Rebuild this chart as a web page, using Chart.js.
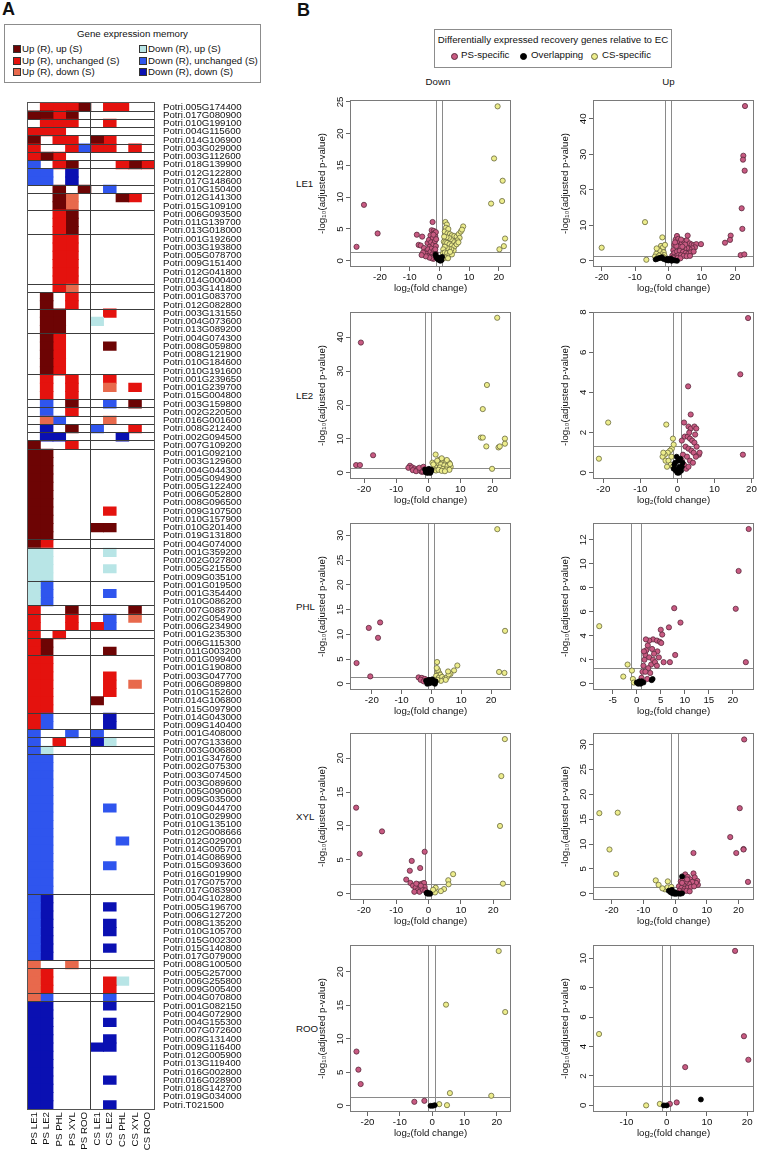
<!DOCTYPE html>
<html><head><meta charset="utf-8">
<script src="https://cdn.jsdelivr.net/npm/chart.js@4.4.1/dist/chart.umd.min.js"></script>
<style>
html,body{margin:0;padding:0;background:#fff;}
body{width:758px;height:1152px;position:relative;overflow:hidden;font-family:"Liberation Sans",Arial,Helvetica,sans-serif;color:#111;}
canvas{position:absolute;}
.t{position:absolute;font-size:9.7px;line-height:10px;white-space:nowrap;}
.box{position:absolute;border:1px solid #8c8c8c;background:#fff;}
.sq{position:absolute;width:6px;height:6px;border:1px solid #333;}
.dot{position:absolute;width:5px;height:5px;border-radius:50%;border:0.8px solid #333;}
</style></head>
<body>
<div style="position:absolute;left:2px;top:0;font-size:18px;line-height:18px;font-weight:bold;">A</div>
<div style="position:absolute;left:297px;top:0.5px;font-size:18px;line-height:18px;font-weight:bold;">B</div>
<div id="legA"></div>
<div id="legB"></div>
<canvas id="hm" width="254" height="1064" style="left:0;top:88px;"></canvas>
<script>
// ---------------- DATA: panel A (gene expression memory heatmap) ----------------
const columns = ['PS LE1','PS LE2','PS PHL','PS XYL','PS ROO','CS LE1','CS LE2','CS PHL','CS XYL','CS ROO'];
const memoryCodes = ['U','u','d','L','b','B'];
const memoryLabels = ['Up (R), up (S)','Up (R), unchanged (S)','Up (R), down (S)','Down (R), up (S)','Down (R), unchanged (S)','Down (R), down (S)'];
const memoryColors = ['#6d0404','#e4120e','#e8694c','#b8e5e6','#2f55ee','#0a10b2'];
const genes = ['Potri.005G174400','Potri.017G080900','Potri.010G199100','Potri.004G115600','Potri.014G106900','Potri.003G029000','Potri.003G112600','Potri.018G139900','Potri.012G122800','Potri.017G148600',
'Potri.010G150400','Potri.012G141300','Potri.015G109100','Potri.006G093500','Potri.011G139700','Potri.013G018000','Potri.001G192600','Potri.003G193800','Potri.005G078700','Potri.009G151400',
'Potri.012G041800','Potri.014G000400','Potri.003G141800','Potri.001G083700','Potri.012G082800','Potri.003G131550','Potri.004G073600','Potri.013G089200','Potri.004G074300','Potri.008G059800',
'Potri.008G121900','Potri.010G184600','Potri.010G191600','Potri.001G239650','Potri.001G239700','Potri.015G004800','Potri.003G159800','Potri.002G220500','Potri.016G001600','Potri.008G212400',
'Potri.002G094500','Potri.007G109200','Potri.001G092100','Potri.003G129600','Potri.004G044300','Potri.005G094900','Potri.005G122400','Potri.006G052800','Potri.008G096500','Potri.009G107500',
'Potri.010G157900','Potri.010G201400','Potri.019G131800','Potri.004G074000','Potri.001G359200','Potri.002G027800','Potri.005G215500','Potri.009G035100','Potri.001G019500','Potri.001G354400',
'Potri.010G086200','Potri.007G088700','Potri.002G054900','Potri.006G234900','Potri.001G235300','Potri.006G115300','Potri.011G003200','Potri.001G099400','Potri.001G190800','Potri.003G047700',
'Potri.006G089800','Potri.010G152600','Potri.014G106800','Potri.015G097900','Potri.014G043000','Potri.009G140400','Potri.001G408000','Potri.007G133600','Potri.003G006800','Potri.001G347600',
'Potri.002G075300','Potri.003G074500','Potri.003G089600','Potri.005G090600','Potri.009G035000','Potri.009G044700','Potri.010G029900','Potri.010G135100','Potri.012G008666','Potri.012G029000',
'Potri.014G005701','Potri.014G086900','Potri.015G093600','Potri.016G019900','Potri.017G075700','Potri.017G083900','Potri.004G102800','Potri.005G196700','Potri.006G127200','Potri.008G135200',
'Potri.010G105700','Potri.015G002300','Potri.015G140800','Potri.017G079000','Potri.008G100500','Potri.005G257000','Potri.006G255800','Potri.009G005400','Potri.004G070800','Potri.001G082150',
'Potri.004G072900','Potri.004G155300','Potri.007G072600','Potri.008G131400','Potri.009G116400','Potri.012G005900','Potri.013G119400','Potri.016G002800','Potri.016G028900','Potri.018G142700',
'Potri.019G034000','Potri.T021500'];
// one character per column (see memoryCodes); '.' = no memory
const geneCodes = ['.uuuU.uu..','UUuU......','.uuu..u...','uuu.......','U.uu.Uu...','u..ubuu.u.','uUu.......','b.uU...uUu','bb.B......','bb.B......',
'..U.U.b...','..Ud...Uu.','..Ud......','..uU......','..uU......','..uU......','..uu......','..uu......','..uu......','..uu......',
'..uu......','..uu......','..ud......','.U.u......','.U.u......','.UU...u...','.UU..L....','.UU.......','.Uu.......','.Uu...U...',
'.Uu.......','.Uu.......','.Uu.......','.u.u..u...','.u.u..d.u.','.u.u......','.b.U..b.U.','.b.u......','.db...d...','.B.U.b..u.',
'.BB....B..','U..u......','UU........','UU........','UU........','UU........','UU........','UU........','UU........','UU....u...',
'UU........','UU...UU...','UU........','Uu........','LL....L...','LL........','LL....L...','LL........','Lb........','Lb....b...',
'Lb........','u..U....U.','u..u..b.d.','u..u.ub...','u.u.......','uU........','uU....U...','uu........','uu........','uu....u...',
'uu....u.d.','uu....u...','uu...U....','uu........','ub....B...','ub....B...','b..b.b....','b.u..BL...','bL........','bb........',
'bb........','bb........','bb........','bb........','bb........','bb....b...','bb........','bb........','bb........','bb.....b..',
'bb........','bb........','bb....b...','bb........','bb........','bb........','bB........','bB....B...','bB........','bB....B...',
'bB....B...','bB........','bB....B...','bB........','d..d......','du........','du....uL..','du....u...','db....b...','BB....B...',
'BB........','BB....B...','BB........','BB....B...','BB...BB...','BB........','BB........','BB........','BB....B...','BB........',
'BB........','BB....B...'];
const groupSizes = [1,1,1,1,1,1,1,1,2,1,2,3,6,1,2,3,5,3,1,1,1,1,1,1,11,1,4,3,1,2,1,2,7,2,1,1,1,17,8,1,3,1,13];

// ---------------- DATA: panel B (volcano plots) [log2FC, -log10 padj] ----------------
const rowNames = ['LE1','LE2','PHL','XYL','ROO'];
const groupNames = ['PS-specific','Overlapping','CS-specific'];
const fcThreshold = 1, pThreshold = 0.05;

const le1DownPS = [[-27.9,2.2],[-25.4,8.8],[-20.8,4.3],[-2.3,6.1],[-7.6,4.1],[-5.8,3.8],[-7.0,2.5],[-6.3,2.4],[-5.2,2.0],[-4.5,1.5],[-4.0,2.8],[-3.5,3.3],[-3.0,4.0],[-2.6,4.8],[-1.9,4.7],[-1.6,4.4],[-1.4,3.9],[-2.2,3.6],[-2.8,2.9],[-3.3,2.2],[-3.8,1.8],[-4.2,1.1],[-3.6,0.8],[-3.0,1.4],[-2.5,2.0],[-2.0,2.6],[-1.5,3.1],[-1.2,2.3],[-1.8,1.6],[-2.4,1.0],[-2.9,0.6],[-1.3,1.2],[-1.6,0.5],[-2.0,0.3],[-1.1,0.6],[-2.6,0.4],[-3.4,0.5],[-4.6,0.7],[-1.1,3.4],[-1.2,4.5],[-2.0,4.1],[-5.5,1.3],[-6.0,0.9],[-1.4,1.8]];
const le1DownOV = [[-1.3,1.0],[-0.8,0.4],[-0.4,0.2],[0.0,0.1],[0.5,0.3],[0.9,0.6],[-1.1,0.6],[0.3,0.0],[-0.2,0.5],[0.7,0.1]];
const le1DownCS = [[19.6,24.3],[18.4,16.1],[21.3,12.6],[21.1,9.4],[17.4,9.0],[22.1,3.5],[21.7,2.3],[20.2,1.8],[2.0,6.1],[2.5,5.7],[2.2,5.2],[1.8,4.6],[3.0,5.0],[2.7,4.3],[3.5,4.2],[4.2,4.0],[5.0,3.9],[5.8,3.8],[6.5,4.2],[7.2,4.6],[8.0,5.4],[7.6,4.9],[6.8,3.6],[6.0,3.2],[5.3,2.9],[4.5,3.1],[3.8,3.4],[3.2,3.6],[2.4,3.7],[1.6,3.8],[1.5,3.0],[2.0,2.9],[2.6,2.8],[3.4,2.6],[4.2,2.4],[5.0,2.2],[5.8,2.6],[6.4,2.9],[4.8,1.6],[4.0,1.8],[3.2,1.9],[2.5,2.0],[1.8,2.2],[1.3,1.8],[1.2,1.2],[1.8,1.3],[2.6,1.2],[3.4,1.0],[4.2,1.0],[1.4,0.6],[2.1,0.5],[2.9,0.4],[1.1,0.3],[3.6,1.4]];

const le1UpPS = [[23.0,43.6],[22.5,29.6],[22.4,28.5],[22.9,25.4],[22.0,14.8],[22.2,9.0],[18.7,7.1],[18.5,5.9],[17.0,5.1],[21.7,1.6],[22.8,1.8],[1.2,1.5],[1.5,3.0],[1.8,4.5],[2.2,6.0],[2.6,7.0],[3.0,6.2],[3.5,5.4],[4.0,4.8],[4.6,5.6],[5.5,5.8],[5.8,7.1],[6.4,4.9],[7.0,4.6],[7.6,4.4],[8.4,4.7],[9.8,4.7],[8.0,3.8],[7.2,3.5],[6.4,3.2],[5.6,3.6],[4.8,3.4],[4.0,3.6],[3.2,4.0],[2.4,4.2],[1.8,2.2],[2.6,2.6],[3.4,2.8],[4.4,2.5],[5.2,2.2],[6.0,2.0],[6.8,2.4],[7.6,2.6],[2.2,1.2],[3.0,1.6],[3.8,1.6],[4.6,1.4],[5.5,1.3],[6.5,1.4],[1.4,0.9],[2.8,0.8],[3.6,0.7],[2.0,5.2],[3.8,6.0],[5.0,4.6],[4.2,4.0]];
const le1UpOV = [[-3.8,0.4],[-3.2,0.6],[-2.6,0.8],[-2.0,1.0],[-1.4,0.5],[-0.6,0.2],[0.0,0.1],[0.5,0.3],[1.0,0.0],[1.5,0.2],[2.0,0.1],[2.6,0.0],[-0.2,0.6],[0.8,0.6]];
const le1UpCS = [[-20.0,3.7],[-7.0,10.9],[-6.6,0.3],[-1.8,6.6],[-2.2,4.2],[-1.6,3.8],[-3.1,3.3],[-2.6,2.8],[-1.4,2.4],[-3.6,2.0],[-2.0,1.8],[-1.2,1.6],[-2.8,1.5],[-4.0,1.2],[-1.6,1.1],[-3.2,0.9],[-1.3,0.7],[-2.4,0.8],[-1.0,4.5],[-3.5,3.5]];

const le2DownPS = [[-21.0,38.4],[-17.2,5.2],[-22.5,2.3],[-21.3,2.3],[-5.7,2.1],[-6.2,1.5],[-5.0,1.6],[-4.3,1.3],[-3.3,1.1],[-4.8,0.8],[-3.8,0.5],[-2.5,0.6],[-2.0,0.3],[-2.8,1.5],[-1.5,1.8],[-1.2,1.0],[-1.6,0.4]];
const le2DownOV = [[-1.0,1.0],[-0.6,0.5],[0.0,0.2],[0.4,0.6],[0.8,0.3],[-0.3,0.0],[1.0,0.9],[0.2,1.2],[-0.8,0.2],[0.6,0.0]];
const le2DownCS = [[21.5,45.7],[18.3,25.9],[17.0,18.8],[16.4,10.4],[17.0,10.4],[18.1,7.8],[23.9,10.1],[23.9,8.6],[21.9,7.5],[22.3,7.8],[19.9,1.2],[2.3,5.4],[3.5,3.9],[4.5,3.8],[5.5,3.4],[6.5,3.0],[3.0,2.8],[4.0,2.5],[5.0,2.2],[6.0,2.0],[7.0,1.8],[2.0,2.0],[2.6,1.5],[3.6,1.6],[4.6,1.2],[5.6,1.0],[6.6,0.9],[1.6,1.0],[2.4,0.7],[3.2,0.9],[4.2,0.6],[5.2,0.5],[1.3,3.0],[6.8,2.6],[5.8,3.8],[4.2,4.3],[2.8,3.6],[1.6,2.5]];

const le2UpPS = [[19.1,7.7],[17.0,4.9],[2.9,4.3],[3.6,2.9],[1.8,2.5],[3.0,2.3],[3.6,2.2],[4.6,2.3],[5.1,2.2],[17.7,0.9],[1.2,1.6],[2.0,1.8],[2.8,1.8],[3.4,1.7],[4.0,1.6],[4.6,1.5],[5.2,1.3],[2.2,1.3],[3.0,1.2],[3.8,1.1],[4.4,1.0],[5.8,0.9],[1.5,0.9],[2.6,0.8],[3.4,0.6],[4.2,0.5],[1.8,0.4],[2.4,0.2],[1.2,0.6],[3.0,0.3],[5.0,0.8],[6.0,1.0],[4.8,1.9],[3.2,2.0]];
const le2UpOV = [[-1.0,0.2],[-0.6,0.5],[-0.2,0.8],[0.2,0.6],[0.6,0.3],[1.0,0.1],[1.4,0.5],[0.0,0.0],[-0.4,0.1],[0.4,0.0],[0.8,0.7],[-0.8,0.4],[1.2,0.3],[0.2,0.2]];
const le2UpCS = [[-21.2,0.7],[-18.7,2.5],[-3.0,2.4],[-1.2,1.7],[-1.5,1.2],[-2.0,1.1],[-2.6,1.0],[-3.4,0.9],[-4.0,0.8],[-3.2,0.6],[-2.4,0.6],[-1.8,0.4],[-1.2,0.3],[-2.8,0.3],[-1.0,1.4],[-1.6,0.8],[-3.8,1.0]];

const phlDownPS = [[-17.2,12.4],[-21.0,11.3],[-17.9,9.3],[-25.1,4.2],[-20.5,1.5],[-4.3,1.3],[-3.2,1.2],[-2.2,1.0],[-3.6,0.8],[-2.6,0.5],[-1.6,0.7]];
const phlDownOV = [[-1.8,0.6],[-1.2,0.3],[-0.6,0.1],[0.0,0.4],[0.6,0.2],[1.2,0.0],[-0.8,0.8],[0.3,0.9],[1.4,0.5],[-1.4,0.0]];
const phlDownCS = [[22.1,31.25],[24.7,10.7],[22.7,2.4],[24.5,2.2],[1.9,4.4],[8.7,3.7],[7.6,2.7],[6.4,2.0],[2.0,2.4],[2.6,2.2],[3.0,1.8],[1.6,1.6],[2.4,1.2],[3.6,1.4],[4.4,1.0],[5.2,1.3],[5.8,1.9],[4.8,0.8],[3.2,0.6],[2.0,0.8],[1.4,0.5],[5.6,2.5],[2.2,2.8],[1.8,3.2]];

const phlUpPS = [[23.3,12.9],[21.2,9.4],[20.6,6.25],[7.8,6.3],[9.1,5.1],[6.7,4.7],[5.0,4.5],[5.3,4.1],[3.4,3.7],[4.2,3.6],[4.8,3.5],[5.1,3.4],[4.3,2.7],[8.0,2.4],[6.9,1.8],[22.7,1.8],[1.0,0.5],[1.2,1.0],[1.4,1.5],[1.6,2.0],[1.8,2.4],[2.0,2.8],[2.3,3.2],[1.5,2.7],[2.6,2.2],[3.0,1.6],[3.4,2.0],[3.8,1.8],[4.2,1.5],[2.4,1.3],[2.8,0.9],[1.8,1.0],[3.6,2.5],[2.2,0.4],[1.2,0.2],[4.6,2.2],[5.6,1.8],[3.2,2.9],[2.6,3.6],[1.9,3.7]];
const phlUpOV = [[0.0,0.1],[0.5,0.2],[1.0,0.2],[0.3,0.0],[3.1,0.3],[3.3,0.4],[1.4,0.1],[0.8,0.0]];
const phlUpCS = [[-7.8,4.8],[-1.9,1.6],[-1.0,1.1],[-2.8,0.6],[-0.8,0.4],[-0.6,0.1]];

const xylDownPS = [[-22.4,12.7],[-14.4,9.2],[-21.3,5.9],[-5.2,4.85],[-5.8,3.4],[-2.6,3.8],[-1.2,6.2],[-6.9,2.1],[-5.6,1.6],[-4.8,1.2],[-4.0,0.9],[-3.4,0.5],[-2.8,0.3],[-3.0,1.4],[-2.0,1.5],[-1.4,1.6],[-1.2,1.0],[-1.8,0.6],[-4.4,0.3],[-2.4,1.2],[-3.8,1.5],[-1.0,0.5]];
const xylDownOV = [[-0.6,0.1],[-0.2,0.0],[0.2,0.1],[0.5,0.0],[-0.4,0.2]];
const xylDownCS = [[23.6,22.8],[22.5,17.35],[22.1,10.0],[23.0,1.5],[7.6,2.9],[6.1,2.0],[6.2,1.4],[4.8,0.7],[3.8,0.4],[2.2,0.9],[2.0,0.2],[1.4,0.6]];

const xylUpPS = [[21.8,31.0],[20.4,17.2],[17.4,11.4],[21.6,9.0],[19.3,8.2],[21.6,8.9],[5.8,8.2],[23.0,2.4],[1.2,1.5],[1.8,2.5],[2.4,3.0],[3.2,3.9],[4.0,3.4],[4.8,2.9],[5.8,4.1],[6.2,3.3],[7.0,2.6],[7.2,1.8],[6.6,2.2],[5.4,2.4],[4.4,2.0],[3.4,2.4],[2.6,1.8],[2.0,1.2],[3.0,1.0],[4.0,1.2],[5.0,1.4],[6.0,1.5],[1.4,0.6],[2.6,0.5],[3.6,0.6],[4.6,0.5],[2.2,2.2],[3.8,2.9]];
const xylUpOV = [[2.2,3.5],[-2.0,0.6],[-1.4,0.3],[-0.8,0.1],[-0.2,0.0],[0.4,0.0],[1.0,0.1],[1.6,0.0],[2.2,0.1],[-1.0,0.8],[0.0,0.3]];
const xylUpCS = [[-23.9,16.2],[-18.1,16.3],[-20.7,8.9],[-18.6,4.0],[-6.1,2.7],[-5.2,1.8],[-2.3,2.5],[-3.2,0.9],[-2.4,1.3],[-1.6,0.8],[-4.0,1.1],[-1.2,1.4]];

const rooDownPS = [[-23.4,8.1],[-22.8,5.4],[-22.1,3.25],[-5.5,0.6],[-2.4,0.75]];
const rooDownOV = [[-0.5,0.0],[0.2,0.0],[0.8,0.1]];
const rooDownCS = [[20.6,23.1],[4.3,15.1],[22.6,14.0],[5.5,1.9],[18.3,1.5],[2.2,0.25],[4.6,0.1]];

const rooUpPS = [[17.0,10.5],[19.2,4.7],[20.3,3.1],[4.6,2.6],[2.5,0.2],[0.8,0.1]];
const rooUpOV = [[8.5,0.4],[-0.7,0.0],[0.0,0.0]];
const rooUpCS = [[-16.8,4.85],[-5.1,0.0],[-1.7,0.1]];

// axis ticks
const xTicks20 = [-20,-10,0,10,20];
const xTicksPhlUp = [-5,0,5,10,15,20];
const xTicksRooUp = [-10,0,10,20];

// ---------------- STYLE / LAYOUT ----------------
const FONT = '"Liberation Sans", Arial, Helvetica, sans-serif';
Chart.defaults.font.family = FONT;
Chart.defaults.font.size = 9.7;
Chart.defaults.color = '#111';
const pointFill = ['#c85a82','#000000','#eded8c'];
const pointEdge = ['#5a2a3c','#000000','#6a6a40'];

function addText(txt, left, top, extra) {
  const d = document.createElement('div'); d.className = 't'; d.textContent = txt;
  d.style.left = left + 'px'; d.style.top = top + 'px';
  if (extra) Object.assign(d.style, extra);
  document.body.appendChild(d); return d;
}
function addEl(cls, left, top, extra) {
  const d = document.createElement('div'); d.className = cls;
  d.style.left = left + 'px'; d.style.top = top + 'px';
  if (extra) Object.assign(d.style, extra);
  document.body.appendChild(d); return d;
}

// Legend A
addEl('box', 4, 24, {width:'255px', height:'57px'});
addText('Gene expression memory', 4, 29, {width:'257px', textAlign:'center'});
memoryLabels.forEach((lab, i) => {
  const col = Math.floor(i / 3), row = i % 3;
  const cy = [49, 61, 72][row];
  const sx = [13, 139][col];
  addEl('sq', sx, cy - 4, {background: memoryColors[i]});
  addText(lab, sx + 9, cy - 5);
});

// Legend B
addEl('box', 434, 29, {width:'236px', height:'37px'});
addText('Differentially expressed recovery genes relative to EC', 434, 35, {width:'238px', textAlign:'center'});
const legBx = [[450.5,461],[519.5,531],[590.5,602]];
groupNames.forEach((g, i) => {
  addEl('dot', legBx[i][0], 52.5, {background: pointFill[i], borderColor: pointEdge[i]});
  addText(g, legBx[i][1], 50);
});

// ---------------- Heatmap ----------------
const colorOf = {}; memoryCodes.forEach((c, i) => colorOf[c] = memoryColors[i]);
const hmDatasets = columns.map((col, c) => ({
  label: col,
  data: geneCodes.map(s => s[c] === '.' ? null : [c, c + 1]),
  backgroundColor: geneCodes.map(s => colorOf[s[c]] || 'rgba(0,0,0,0)'),
  borderWidth: 0, grouped: false, barPercentage: 1, categoryPercentage: 1, inflateAmount: 0.45
}));
const hmLines = {
  id: 'hmLines',
  afterDatasetsDraw(chart) {
    const {ctx, chartArea: a, scales: {x, y}} = chart;
    ctx.save();
    ctx.strokeStyle = '#3c3c3c'; ctx.lineWidth = 1;
    ctx.beginPath();
    let k = 0;
    groupSizes.slice(0, -1).forEach(n => {
      k += n;
      const py = Math.round((y.getPixelForValue(k - 1) + y.getPixelForValue(k)) / 2 - 0.5) + 0.5;
      ctx.moveTo(a.left, py); ctx.lineTo(a.right, py);
    });
    const px = Math.round(x.getPixelForValue(5) - 0.5) + 0.5;
    ctx.moveTo(px, a.top); ctx.lineTo(px, a.bottom);
    ctx.stroke();
    ctx.strokeStyle = '#555';
    ctx.strokeRect(Math.round(a.left) - 0.5, Math.round(a.top) - 0.5, Math.round(a.right - a.left) + 1, Math.round(a.bottom - a.top) + 1);
    ctx.restore();
  }
};
new Chart(document.getElementById('hm'), {
  type: 'bar',
  data: {labels: genes, datasets: hmDatasets},
  options: {
    indexAxis: 'y', responsive: false, maintainAspectRatio: false, animation: false,
    layout: {padding: {left: 27.7, top: 3.7, right: 0, bottom: 0}},
    plugins: {legend: {display: false}, tooltip: {enabled: false}},
    scales: {
      x: {type: 'linear', min: 0, max: 10, display: false},
      xl: {type: 'category', labels: columns, position: 'bottom', offset: true,
        grid: {display: false, drawTicks: false}, border: {display: false},
        ticks: {autoSkip: false, minRotation: 90, maxRotation: 90, padding: 3, color: '#111'},
        afterFit: s => { s.height = 43; }},
      y: {type: 'category', position: 'right', offset: true,
        grid: {display: false, drawTicks: false}, border: {display: false},
        ticks: {autoSkip: false, padding: 9, color: '#111'},
        afterFit: s => { s.width = 100; }}
    }
  },
  plugins: [hmLines]
});

// ---------------- Volcano plots ----------------
const boxTops = [100, 312, 523, 733, 945];
const boxLefts = [350, 593];
const boxW = 161, boxH = 167, yAxisW = 37, xAxisH = 31, padTop = 4, padRight = 4;

addText('Down', 438, 77, {transform: 'translateX(-50%)'});
addText('Up', 668.5, 77, {transform: 'translateX(-50%)'});
rowNames.forEach((r, i) => addText(r, 296, boxTops[i] + boxH / 2 - 5));

const panels = [
  {row:0, col:0, ps:le1DownPS, ov:le1DownOV, cs:le1DownCS, xr:[-30.1,24.1], yr:[-0.98,25.3], xt:xTicks20, yt:[0,5,10,15,20,25]},
  {row:0, col:1, ps:le1UpPS, ov:le1UpOV, cs:le1UpCS, xr:[-22.6,25.7], yr:[-1.74,45.3], xt:xTicks20, yt:[0,10,20,30,40]},
  {row:1, col:0, ps:le2DownPS, ov:le2DownOV, cs:le2DownCS, xr:[-24.4,25.8], yr:[-1.8,47.4], xt:xTicks20, yt:[0,10,20,30,40]},
  {row:1, col:1, ps:le2UpPS, ov:le2UpOV, cs:le2UpCS, xr:[-22.8,20.7], yr:[-0.31,8.0], xt:xTicks20, yt:[0,2,4,6,8]},
  {row:2, col:0, ps:phlDownPS, ov:phlDownOV, cs:phlDownCS, xr:[-27.3,26.7], yr:[-1.25,32.5], xt:xTicks20, yt:[0,5,10,15,20,25,30]},
  {row:2, col:1, ps:phlUpPS, ov:phlUpOV, cs:phlUpCS, xr:[-9.1,24.4], yr:[-0.52,13.4], xt:xTicksPhlUp, yt:[0,2,4,6,8,10,12]},
  {row:3, col:0, ps:xylDownPS, ov:xylDownOV, cs:xylDownCS, xr:[-24.3,25.5], yr:[-0.91,23.7], xt:xTicks20, yt:[0,5,10,15,20]},
  {row:3, col:1, ps:xylUpPS, ov:xylUpOV, cs:xylUpCS, xr:[-25.9,24.9], yr:[-1.24,32.3], xt:xTicks20, yt:[0,5,10,15,20,25,30]},
  {row:4, col:0, ps:rooDownPS, ov:rooDownOV, cs:rooDownCS, xr:[-25.4,24.4], yr:[-0.92,24.0], xt:xTicks20, yt:[0,5,10,15,20]},
  {row:4, col:1, ps:rooUpPS, ov:rooUpOV, cs:rooUpCS, xr:[-18.3,21.7], yr:[-0.45,10.9], xt:xTicksRooUp, yt:[0,2,4,6,8,10]}
];

const volcanoDeco = {
  id: 'volcanoDeco',
  beforeDatasetsDraw(chart) {
    const {ctx, chartArea: a, scales: {x, y}} = chart;
    ctx.save();
    ctx.beginPath(); ctx.rect(a.left, a.top, a.right - a.left, a.bottom - a.top); ctx.clip();
    ctx.strokeStyle = '#8a8a8a'; ctx.lineWidth = 1;
    ctx.beginPath();
    [-fcThreshold, fcThreshold].forEach(v => {
      const px = Math.round(x.getPixelForValue(v) - 0.5) + 0.5;
      ctx.moveTo(px, a.top); ctx.lineTo(px, a.bottom);
    });
    const py = Math.round(y.getPixelForValue(-Math.log10(pThreshold)) - 0.5) + 0.5;
    ctx.moveTo(a.left, py); ctx.lineTo(a.right, py);
    ctx.stroke();
    ctx.restore();
  },
  afterDraw(chart) {
    const {ctx, chartArea: a, scales: {y}} = chart;
    ctx.save();
    ctx.strokeStyle = '#7a7a7a'; ctx.lineWidth = 1;
    ctx.strokeRect(Math.round(a.left) + 0.5, Math.round(a.top) + 0.5, Math.round(a.right - a.left) - 1, Math.round(a.bottom - a.top) - 1);
    ctx.fillStyle = '#111';
    ctx.font = '9.7px ' + FONT;
    ctx.textAlign = 'center'; ctx.textBaseline = 'middle';
    y.ticks.forEach(t => {
      ctx.save();
      ctx.translate(a.left - 10, y.getPixelForValue(t.value));
      ctx.rotate(-Math.PI / 2);
      ctx.fillText(t.label, 0, 0);
      ctx.restore();
    });
    ctx.restore();
  }
};

panels.forEach(p => {
  const cv = document.createElement('canvas');
  cv.width = yAxisW + boxW + padRight;
  cv.height = padTop + boxH + xAxisH;
  cv.style.left = (boxLefts[p.col] - yAxisW) + 'px';
  cv.style.top = (boxTops[p.row] - padTop) + 'px';
  document.body.appendChild(cv);
  const mk = (data, i) => ({
    label: groupNames[i], data: data,
    pointRadius: i === 1 ? 2.5 : 2.6, pointHoverRadius: 2.6,
    pointBackgroundColor: pointFill[i], pointBorderColor: pointEdge[i], pointBorderWidth: 0.8
  });
  new Chart(cv, {
    type: 'scatter',
    data: {datasets: [mk(p.ov, 1), mk(p.cs, 2), mk(p.ps, 0)]},
    options: {
      responsive: false, maintainAspectRatio: false, animation: false,
      layout: {padding: {left: 0, top: padTop, right: padRight, bottom: 0}},
      plugins: {legend: {display: false}, tooltip: {enabled: false}},
      scales: {
        x: {type: 'linear', min: p.xr[0], max: p.xr[1],
          afterBuildTicks: s => { s.ticks = p.xt.map(v => ({value: v})); },
          afterFit: s => { s.height = xAxisH; },
          grid: {display: true, drawOnChartArea: false, drawTicks: true, tickLength: 4, color: '#666'},
          border: {display: false},
          ticks: {autoSkip: false, maxRotation: 0, padding: 1, color: '#111'},
          title: {display: true, text: 'log\u2082(fold change)', color: '#111', padding: {top: 0, bottom: 4}}},
        y: {type: 'linear', min: p.yr[0], max: p.yr[1],
          afterBuildTicks: s => { s.ticks = p.yt.map(v => ({value: v})); },
          afterFit: s => { s.width = yAxisW; },
          grid: {display: true, drawOnChartArea: false, drawTicks: true, tickLength: 4, color: '#666'},
          border: {display: false},
          ticks: {display: false},
          title: {display: true, text: '-log\u2081\u2080(adjusted p-value)', color: '#111', padding: {top: 4, bottom: 0}}}
      }
    },
    plugins: [volcanoDeco]
  });
});
</script>
</body></html>
